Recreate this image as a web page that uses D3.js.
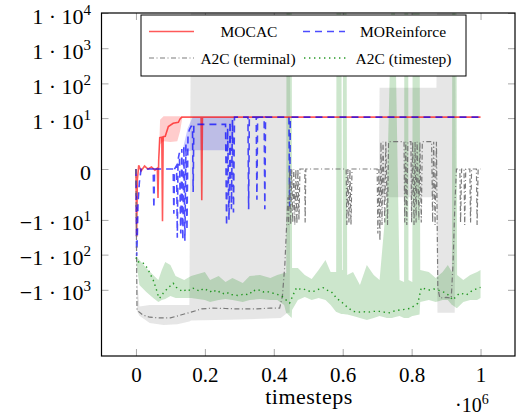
<!DOCTYPE html>
<html>
<head>
<meta charset="utf-8">
<script src="https://cdn.jsdelivr.net/npm/d3@7"></script>
<style>
body { margin: 0; background: #fff; }
text { font-family: "Liberation Serif", serif; fill: #000; }
</style>
</head>
<body>
<svg id="chart" width="521" height="417"></svg>
<script>
// ticks
const xTicks = [0, 0.2, 0.4, 0.6, 0.8, 1];
const yTicks = [-1e3, -1e2, -1e1, 0, 1e1, 1e2, 1e3, 1e4];

// series: [timesteps (x1e6), mean]
const mocac = [[0,0],[0.002,-31],[0.004,-0.4],[0.008,0.1],[0.015,-0.05],[0.025,0.08],[0.035,0],[0.045,0.05],
  [0.055,-0.03],[0.062,0.02],[0.064,-2.1],[0.066,0.3],[0.069,2.5],[0.075,2.6],[0.077,-11],[0.079,2.7],
  [0.085,2.8],[0.094,5.6],[0.108,7],[0.123,7.5],[0.128,9.5],[0.133,10.7],[0.189,10.7],[0.191,-2.5],
  [0.193,10.7],[1.0,10.7]];
// [timesteps, lower, upper]
const mocacBand = [[0.066,0.3,0.3],[0.07,1.5,9],[0.08,1.9,11.3],[0.1,1.8,11.3],[0.12,1.9,11.3],
  [0.128,4,11.3],[0.135,10.7,10.7]];

const moreinforce = [[0,0],[0.002,-110],[0.004,-30],[0.006,-3],[0.01,-0.5],[0.015,0],[0.05,0],[0.052,-4.4],
  [0.054,0],[0.108,0],[0.11,-6.5],[0.112,0],[0.118,0.1],[0.12,-33],[0.122,0.3],[0.126,0.7],[0.13,-25],
  [0.133,1],[0.136,-38],[0.139,1.3],[0.142,-40],[0.145,1.5],[0.148,-20],[0.151,3],[0.155,4.5],[0.16,5.7],
  [0.164,5.7],[0.166,-1.3],[0.168,6.5],[0.26,6.5],[0.263,-15],[0.266,5],[0.27,-10],[0.273,8],[0.277,-4.8],
  [0.28,9],[0.283,-6],[0.286,10.7],[0.325,10.7],[0.327,-4.8],[0.329,10.7],[0.349,10.7],[0.351,-2.4],
  [0.353,10.7],[0.372,10.7],[0.374,-4.8],[0.376,10.7],[0.444,10.7],[0.446,-4],[0.448,10.7],[1.0,10.7]];
const moreinforceBand = [[0.136,1,1],[0.15,0.8,5],[0.165,0.9,10.9],[0.28,0.9,10.9],[0.287,10.7,10.7]];

const a2cTerminal = [[0,0],[0.003,-3800],[0.02,-5200],[0.04,-6000],[0.07,-6300],[0.1,-6300],[0.13,-5200],
  [0.16,-4300],[0.19,-3500],[0.22,-3300],[0.26,-3400],[0.3,-3500],[0.35,-3500],[0.39,-3300],[0.417,-3300],
  [0.425,-1500],[0.432,-200],[0.438,-10],[0.441,-2],[0.443,-14],[0.446,0],[0.449,-14],[0.452,0],[0.455,-12],
  [0.458,0],[0.461,-14],[0.464,0],[0.467,-13],[0.47,0],[0.473,-10],[0.476,0],[0.49,0],[0.491,-12],[0.493,0],
  [0.61,0],[0.612,-14],[0.615,0],[0.618,-12],[0.621,0],[0.624,-14],[0.627,0],[0.7,0],[0.702,-25],[0.705,0],
  [0.708,-40],[0.711,1.85],[0.714,-14],[0.717,1.85],[0.722,-12],[0.725,1.85],[0.73,-14],[0.733,1.85],
  [0.778,1.85],[0.78,-12],[0.783,1.85],[0.786,-14],[0.789,1.85],[0.798,1.85],[0.8,-12],[0.803,1.85],
  [0.807,-14],[0.81,1.85],[0.813,-12],[0.816,1.85],[0.821,-10],[0.824,1.85],[0.828,-12],[0.831,1.85],
  [0.858,1.85],[0.861,-12],[0.864,1.85],[0.868,-14],[0.872,1.85],[0.876,-900],[0.882,-1700],[0.9,-1650],
  [0.915,-1700],[0.92,-200],[0.925,-5],[0.93,0],[0.94,0],[0.942,-12],[0.945,0],[0.952,0],[0.954,-14],
  [0.957,0],[0.969,0],[0.971,-12],[0.974,0],[0.988,0],[0.99,-14],[0.993,0],[1.0,0]];
const a2cTerminalBand = [[0,-1,0],[0.003,-4000,-500],[0.01,-5500,-3000],[0.04,-8800,-2700],[0.08,-10000,-2700],
  [0.12,-9500,-2700],[0.155,-8000,-2700],[0.16,-7500,1e5],[0.3,-7000,1e5],[0.42,-6300,1e5],[0.44,-4500,1e5],
  [0.446,-4500,1e5],[0.448,0,0],[0.705,0,0],[0.707,-2,75],[0.872,-2,75],[0.875,-4500,1e5],
  [0.925,-4500,1e5],[0.928,0,0],[1.0,0,0]];

const a2cTimestep = [[0,-120],[0.004,-158],[0.012,-165],[0.021,-175],[0.03,-220],[0.036,-274],[0.044,-400],
  [0.05,-528],[0.058,-900],[0.064,-1400],[0.068,-1750],[0.074,-1500],[0.079,-1250],[0.088,-1000],[0.098,-800],
  [0.108,-650],[0.117,-850],[0.127,-1000],[0.137,-1130],[0.147,-950],[0.157,-1050],[0.166,-900],[0.176,-1000],
  [0.186,-1100],[0.195,-920],[0.205,-1000],[0.215,-1150],[0.225,-1000],[0.235,-1200],[0.245,-1100],
  [0.255,-1300],[0.265,-1200],[0.275,-1400],[0.285,-1350],[0.295,-1450],[0.305,-1400],[0.315,-1300],
  [0.326,-1400],[0.334,-1200],[0.34,-1015],[0.35,-1100],[0.36,-1000],[0.37,-1150],[0.38,-1100],[0.39,-1200],
  [0.398,-1250],[0.41,-1350],[0.42,-1500],[0.427,-1600],[0.437,-2000],[0.446,-2370],[0.456,-1400],
  [0.466,-870],[0.475,-950],[0.485,-920],[0.495,-1050],[0.505,-1100],[0.514,-1130],[0.524,-1000],
  [0.533,-950],[0.543,-870],[0.553,-1000],[0.561,-1100],[0.567,-1130],[0.575,-1400],[0.582,-1750],
  [0.591,-2000],[0.601,-2420],[0.615,-3200],[0.63,-4100],[0.645,-4300],[0.66,-4200],[0.675,-4300],
  [0.69,-4100],[0.707,-4100],[0.72,-4300],[0.736,-4500],[0.75,-4000],[0.765,-3750],[0.78,-3600],
  [0.794,-3400],[0.806,-2900],[0.818,-2420],[0.828,-870],[0.84,-950],[0.852,-1015],[0.864,-950],
  [0.876,-1015],[0.888,-1100],[0.9,-1250],[0.91,-1500],[0.92,-1950],[0.93,-1500],[0.939,-1250],
  [0.949,-1300],[0.959,-1400],[0.968,-1200],[0.978,-1015],[0.988,-950],[0.997,-870],[1.0,-850]];
const a2cTimestepBand = [[0,-142,-110],[0.01,-731,-142],[0.03,-1157,-240],[0.05,-1711,-380],[0.065,-2220,-528],
  [0.075,-1949,-274],[0.085,-1826,-162],[0.1,-1501,-197],[0.115,-1711,-406],[0.14,-1711,-528],
  [0.16,-1711,-406],[0.18,-1826,-356],[0.2,-1949,-312],[0.215,-2220,-528],[0.24,-1949,-406],
  [0.26,-1826,-600],[0.28,-1949,-463],[0.31,-2220,-642],[0.33,-1949,-406],[0.36,-1826,-380],
  [0.39,-1949,-463],[0.41,-1949,-380],[0.43,-2700,-333],[0.436,-4564,-333],[0.437,-4564,1e5],
  [0.452,-6325,1e5],[0.453,-3746,-240],[0.47,-1949,-240],[0.49,-1600,-380],[0.51,-1949,-494],
  [0.53,-1711,-274],[0.55,-1949,-142],[0.565,-2700,-312],[0.581,-4270,-312],[0.582,-4270,1e5],
  [0.596,-4870,1e5],[0.598,-4870,-274],[0.6,-4870,-274],[0.601,-4870,1e5],[0.611,-5000,1e5],
  [0.613,-5000,-380],[0.63,-5553,-312],[0.65,-6325,-731],[0.67,-7206,-197],[0.69,-6325,-380],
  [0.707,-5553,-528],[0.728,-6325,-2],[0.743,-6325,1e5],[0.75,-6000,1e5],[0.765,-5553,-528],
  [0.778,-6325,-600],[0.779,-6325,1e5],[0.79,-6325,1e5],[0.791,-6325,-528],[0.802,-5553,-600],
  [0.803,-5553,1e5],[0.823,-5000,1e5],[0.825,-2220,-274],[0.85,-1949,-312],[0.87,-2220,-463],
  [0.89,-1949,-312],[0.905,-1949,-197],[0.917,-2700,-312],[0.918,-2700,1e5],[0.93,-3292,1e5],
  [0.932,-3292,-380],[0.95,-2220,-528],[0.97,-1949,-380],[0.99,-1949,-312],[1.0,-1711,-274]];

// plot area
const L = 101.5, R = 515, T = 13, B = 356;

const x = d3.scaleLinear().domain([-0.1, 1.1]).range([L, R]);
const y = d3.scaleSymlog().constant(0.372).domain([-75800, 1e4]).range([B, T]);

const svg = d3.select('#chart');

svg.append('clipPath').attr('id', 'clip')
  .append('rect').attr('x', L).attr('y', T).attr('width', R - L).attr('height', B - T);

const plot = svg.append('g').attr('clip-path', 'url(#clip)');

const line = d3.line().x(d => x(d[0])).y(d => y(d[1]));
const area = d3.area().x(d => x(d[0])).y0(d => y(d[1])).y1(d => y(d[2]));

// bands + lines
const series = [
  {band: mocacBand, mean: mocac, color: '#ff0000', dash: null, width: 1.6, op: 0.65},
  {band: moreinforceBand, mean: moreinforce, color: '#0000ff', dash: '7,5', width: 1.6, op: 0.7},
  {band: a2cTerminalBand, mean: a2cTerminal, color: '#6e6e6e', dash: '5,2.5,1,2.5', width: 1.2, op: 0.9},
  {band: a2cTimestepBand, mean: a2cTimestep, color: '#108f10', dash: '1.4,3.6', width: 1.4, op: 0.9}
];
const bandColor = ['#ff0000', '#0000ff', '#808080', '#008000'];

series.forEach((s, i) => {
  plot.append('path')
    .attr('d', area(s.band))
    .attr('fill', bandColor[i])
    .attr('fill-opacity', 0.2)
    .attr('stroke', 'none');
});
series.forEach(s => {
  plot.append('path')
    .attr('d', line(s.mean))
    .attr('fill', 'none')
    .attr('stroke', s.color)
    .attr('stroke-opacity', s.op)
    .attr('stroke-width', s.width)
    .attr('stroke-dasharray', s.dash);
});

// axes, ticks inside on all four sides
const tickLen = 7;
const xAxisB = svg.append('g').attr('transform', `translate(0,${B})`)
  .call(d3.axisBottom(x).tickValues(xTicks).tickSize(-tickLen).tickFormat(d3.format('')));
svg.append('g').attr('transform', `translate(0,${T})`)
  .call(d3.axisTop(x).tickValues(xTicks).tickSize(-tickLen).tickFormat(''));
const yAxisL = svg.append('g').attr('transform', `translate(${L},0)`)
  .call(d3.axisLeft(y).tickValues(yTicks).tickSize(-tickLen).tickFormat(''));
svg.append('g').attr('transform', `translate(${R},0)`)
  .call(d3.axisRight(y).tickValues(yTicks).tickSize(-tickLen).tickFormat(''));

svg.selectAll('.domain').remove();
svg.selectAll('.tick line').attr('stroke', '#a8a8a8').attr('stroke-width', 1);

xAxisB.selectAll('.tick text')
  .attr('y', 25.5).attr('dy', null)
  .style('font-family', '"Liberation Serif", serif')
  .style('font-size', '21px').attr('fill', '#000');

// y tick labels as 1 · 10^k
yAxisL.selectAll('.tick').each(function(d) {
  const g = d3.select(this);
  const t = g.append('text')
    .attr('x', 91 - L).attr('y', 10)
    .attr('text-anchor', 'end')
    .style('font-size', '22px');
  if (d === 0) {
    t.text('0');
  } else {
    const k = Math.round(Math.log10(Math.abs(d)));
    t.append('tspan').text((d < 0 ? '\u22121' : '1') + ' \u00b7 10');
    t.append('tspan').attr('dy', -9).style('font-size', '15px').text(k);
  }
});

// frame
svg.append('rect')
  .attr('x', L).attr('y', T).attr('width', R - L).attr('height', B - T)
  .attr('fill', 'none').attr('stroke', '#000').attr('stroke-width', 1.2);

// axis labels
svg.append('text').attr('x', 309).attr('y', 404).attr('text-anchor', 'middle')
  .style('font-size', '22px').style('letter-spacing', '0.5px').text('timesteps');
const mult = svg.append('text').attr('x', 455).attr('y', 412).style('font-size', '20px');
mult.append('tspan').text('\u00b710');
mult.append('tspan').attr('dy', -8).style('font-size', '14px').text('6');

// legend
const leg = svg.append('g');
leg.append('rect').attr('x', 141).attr('y', 15).attr('width', 325).attr('height', 61)
  .attr('fill', '#fff').attr('stroke', '#000').attr('stroke-width', 1);

const legendItems = [
  {name: 'MOCAC', s: 0, x1: 149, x2: 194, tx: 249, row: 0},
  {name: 'MOReinforce', s: 1, x1: 303, x2: 345, tx: 403, row: 0},
  {name: 'A2C (terminal)', s: 2, x1: 149, x2: 194, tx: 248, row: 1},
  {name: 'A2C (timestep)', s: 3, x1: 304, x2: 349, tx: 403.5, row: 1}
];
const rowY = [31.5, 58];
legendItems.forEach(it => {
  const s = series[it.s];
  leg.append('line')
    .attr('x1', it.x1).attr('x2', it.x2).attr('y1', rowY[it.row]).attr('y2', rowY[it.row])
    .attr('stroke', s.color).attr('stroke-opacity', s.op).attr('stroke-width', s.width)
    .attr('stroke-dasharray', s.dash);
  leg.append('text')
    .attr('x', it.tx).attr('y', rowY[it.row] + 5.5)
    .attr('text-anchor', 'middle')
    .style('font-size', '15.5px')
    .text(it.name);
});
</script>
</body>
</html>
